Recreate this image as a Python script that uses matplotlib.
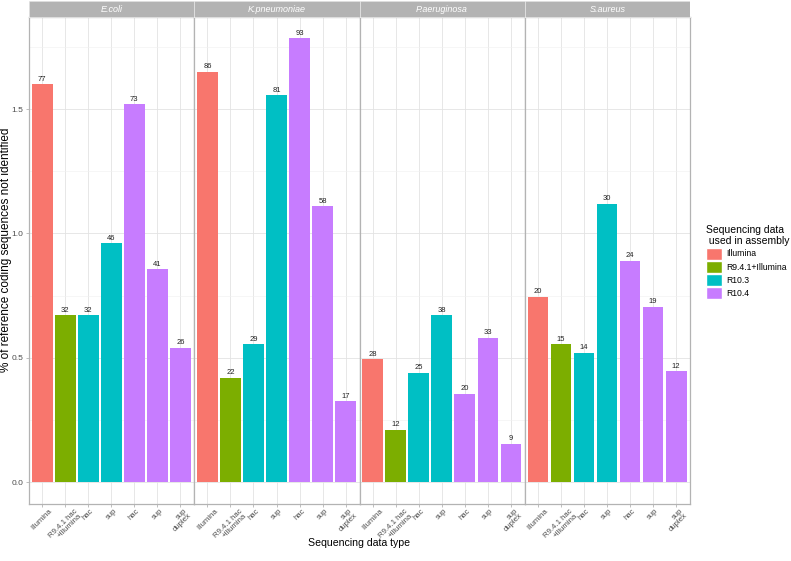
import matplotlib
matplotlib.use("Agg")
import matplotlib.pyplot as plt
from matplotlib.patches import Patch
from matplotlib.transforms import ScaledTranslation

plt.rcParams["font.family"] = ["Liberation Sans", "DejaVu Sans"]

species = ["E.coli", "K.pneumoniae", "P.aeruginosa", "S.aureus"]
x_labels = ["Illumina", "R9.4.1 hac\n+Illumina", "hac", "sup", "hac", "sup", "sup\nduplex"]
bar_group = ["Illumina", "R9.4.1+Illumina", "R10.3", "R10.3", "R10.4", "R10.4", "R10.4"]

pct_missing = {
    "E.coli":       [1.60, 0.67, 0.67, 0.96, 1.52, 0.855, 0.54],
    "K.pneumoniae": [1.65, 0.42, 0.555, 1.555, 1.785, 1.11, 0.325],
    "P.aeruginosa": [0.495, 0.21, 0.44, 0.67, 0.355, 0.58, 0.155],
    "S.aureus":     [0.745, 0.555, 0.52, 1.12, 0.89, 0.705, 0.445],
}
n_missing = {
    "E.coli":       [77, 32, 32, 46, 73, 41, 26],
    "K.pneumoniae": [86, 22, 29, 81, 93, 58, 17],
    "P.aeruginosa": [28, 12, 25, 38, 20, 33, 9],
    "S.aureus":     [20, 15, 14, 30, 24, 19, 12],
}

groups = ["Illumina", "R9.4.1+Illumina", "R10.3", "R10.4"]
colours = {"Illumina": "#F8766D", "R9.4.1+Illumina": "#7CAE00",
           "R10.3": "#00BFC4", "R10.4": "#C77CFF"}

W, H = 791, 561
fig = plt.figure(figsize=(W / 100, H / 100), dpi=100)

left, right = 29, 690
top, bottom = 17, 504
strip_top = 1
pw = (right - left) / 4
border = "#b3b3b3"
grid = "#e3e3e3"
xs = list(range(1, 8))
shift = ScaledTranslation(4 / 100, 0, fig.dpi_scale_trans)

for i, sp in enumerate(species):
    x0 = left + i * pw
    ax = fig.add_axes([x0 / W, 1 - bottom / H, pw / W, (bottom - top) / H])
    ax.set_xlim(0.43, 7.6)
    ax.set_ylim(-0.088, 1.87)
    ax.set_yticks([0, 0.5, 1.0, 1.5])
    ax.set_yticks([0.25, 0.75, 1.25, 1.75], minor=True)
    ax.set_xticks(xs)
    ax.grid(True, which="major", color=grid, lw=0.6)
    ax.grid(True, which="minor", axis="y", color="#f0f0f0", lw=0.4)
    ax.set_axisbelow(True)
    for s in ax.spines.values():
        s.set_color(border)
        s.set_linewidth(0.9)
    ax.bar(xs, pct_missing[sp], width=0.9,
           color=[colours[g] for g in bar_group], zorder=2)
    for x, v, n in zip(xs, pct_missing[sp], n_missing[sp]):
        ax.text(x, v + 0.006, str(n), ha="center", va="bottom", fontsize=5.5, color="#222222")
    ax.set_xticklabels(x_labels, rotation=45, ha="center", va="top",
                       multialignment="right", fontsize=5.6, color="#4d4d4d",
                       linespacing=0.85)
    for lab in ax.get_xticklabels():
        lab.set_transform(lab.get_transform() + shift)
    ax.tick_params(axis="x", which="major", length=2, color=border, width=0.6, pad=0.5)
    ax.tick_params(axis="y", which="major", length=2, color=border, width=0.6, pad=2)
    ax.tick_params(axis="y", which="minor", length=0)
    if i == 0:
        ax.set_yticklabels(["0.0", "0.5", "1.0", "1.5"], fontsize=6, color="#4d4d4d")
    else:
        ax.tick_params(axis="y", labelleft=False, length=0)

    sax = fig.add_axes([x0 / W, 1 - top / H, pw / W, (top - strip_top) / H])
    sax.set_facecolor(border)
    sax.set_xticks([])
    sax.set_yticks([])
    for s in sax.spines.values():
        s.set_color("white")
        s.set_linewidth(0.4)
    sax.text(0.5, 0.48, sp, ha="center", va="center", color="white",
             fontsize=6.5, style="italic", transform=sax.transAxes)

fig.text(6 / W, 1 - 250 / H, "% of reference coding sequences not identified",
         rotation=90, ha="center", va="center", fontsize=8.5)
fig.text((left + right) / 2 / W, 1 - 543 / H, "Sequencing data type",
         ha="center", va="center", fontsize=7.6)

handles = [Patch(facecolor=colours[g], edgecolor="white", label=g) for g in groups]
leg = fig.legend(handles=handles, title="Sequencing data\n used in assembly",
                 loc="center left", bbox_to_anchor=(706 / W, 1 - 262 / H),
                 frameon=False, fontsize=6.2, title_fontsize=7.5,
                 handlelength=1.8, handleheight=1.75, handletextpad=0.6,
                 labelspacing=0.15, borderaxespad=0, borderpad=0)
leg._legend_box.align = "left"

fig.savefig("out.png", dpi=100)
